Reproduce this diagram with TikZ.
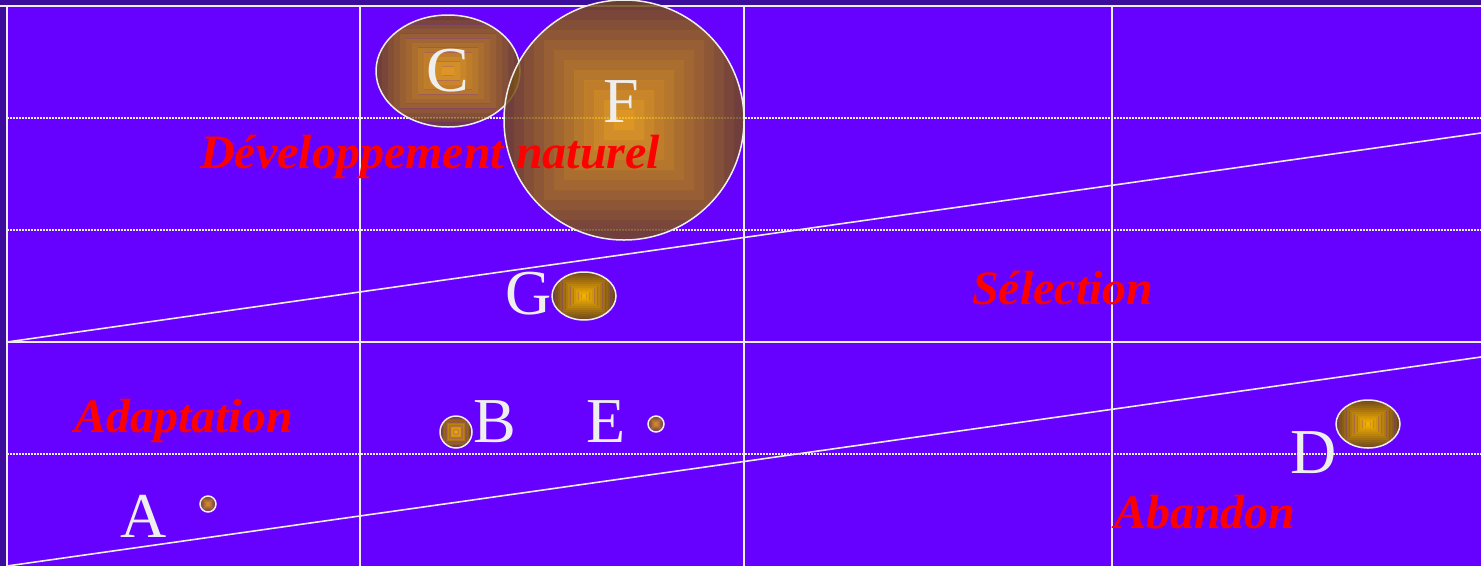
\documentclass[tikz,border=0pt]{standalone}
\usepackage{fontspec}
\setmainfont{Liberation Serif}
\usetikzlibrary{shapes.geometric,calc}
\definecolor{outerbg}{HTML}{3C0C9C}
\definecolor{plotbg}{HTML}{6600FF}
\definecolor{balout}{HTML}{724A1C}
\definecolor{balin}{HTML}{F2B000}
\definecolor{lbl}{HTML}{EEEEEE}
\definecolor{redlbl}{HTML}{FF0000}
\tikzset{
  ballop/.store in=\ballop, ballop=1,
  ball/.style={ellipse, inner sep=0pt, draw=lbl, line width=1.5pt,
    path picture={
      \foreach \i in {0,...,11}{
        \pgfmathsetmacro\a{1-\i/12}
        \pgfmathsetmacro\b{1-(\i+1)/12}
        \pgfmathsetmacro\m{100*\i/11}
        \fill[balin!\m!balout, fill opacity=\ballop, even odd rule]
          ($(path picture bounding box.center)!\a!(path picture bounding box.north east)$) rectangle
          ($(path picture bounding box.center)!\a!(path picture bounding box.south west)$)
          ($(path picture bounding box.center)!\b!(path picture bounding box.north east)$) rectangle
          ($(path picture bounding box.center)!\b!(path picture bounding box.south west)$);
      }}},
  letter/.style={anchor=base, inner sep=0pt, text=lbl, font=\fontsize{64}{64}\selectfont},
  zone/.style={anchor=base west, inner sep=0pt, text=redlbl, font=\fontsize{48}{48}\selectfont\bfseries\itshape},
  gridsolid/.style={draw=lbl, line width=1.4pt},
  griddot/.style={draw=lbl, line width=1.3pt, dash pattern=on 2pt off 1pt},
  diag/.style={draw=lbl, line width=1.6pt},
}
\begin{document}
\begin{tikzpicture}[x=1pt,y=-1pt]
\useasboundingbox (0,0) rectangle (1481,566);
\fill[outerbg] (0,0) rectangle (1481,566);
\fill[plotbg] (7,6) rectangle (1481,566);
% grid
\draw[gridsolid] (0,6) -- (1481,6);
\draw[gridsolid] (7,6) -- (7,566);
\foreach \x in {360,744,1112} \draw[gridsolid] (\x,6) -- (\x,566);
\foreach \y in {118,230,454} \draw[griddot] (7,\y) -- (1481,\y);
\draw[gridsolid] (7,342) -- (1481,342);
% diagonals
\coordinate (d1s) at (7,342);
\coordinate (d1e) at (1481,133);
\coordinate (d2s) at (7,566);
\coordinate (d2e) at (1481,357);
\draw[diag] (d1s) -- (d1e);
\draw[diag] (d2s) -- (d2e);
% balls
\node[ball, ballop=.85, minimum width=144pt, minimum height=112pt] (bC) at (448,71) {};
\node[ball, ballop=.85, minimum width=240pt, minimum height=240pt] (bF) at (624,120) {};
\node[ball, minimum width=64pt, minimum height=48pt] (bG) at (584,296) {};
\node[ball, minimum width=32pt, minimum height=32pt] (bB) at (456,432) {};
\node[ball, minimum width=16pt, minimum height=16pt] (bE) at (656,424) {};
\node[ball, minimum width=64pt, minimum height=48pt] (bD) at (1368,424) {};
\node[ball, minimum width=16pt, minimum height=16pt] (bA) at (208,504) {};
% zone labels
\node[zone] (dev) at (200,168) {Développement naturel};
\node[zone] (sel) at (972,304) {Sélection};
\node[zone] (ada) at (74,432) {Adaptation};
\node[zone] (aba) at (1114,528) {Abandon};
% letters
\node[letter] (lC) at (448,91) {C};
\node[letter] (lF) at (621,122) {F};
\node[letter] (lG) at (529,314) {G};
\node[letter] (lB) at (495,442) {B};
\node[letter] (lE) at (606,442) {E};
\node[letter] (lD) at (1314,473) {D};
\node[letter] (lA) at (144,537) {A};
\end{tikzpicture}
\end{document}
